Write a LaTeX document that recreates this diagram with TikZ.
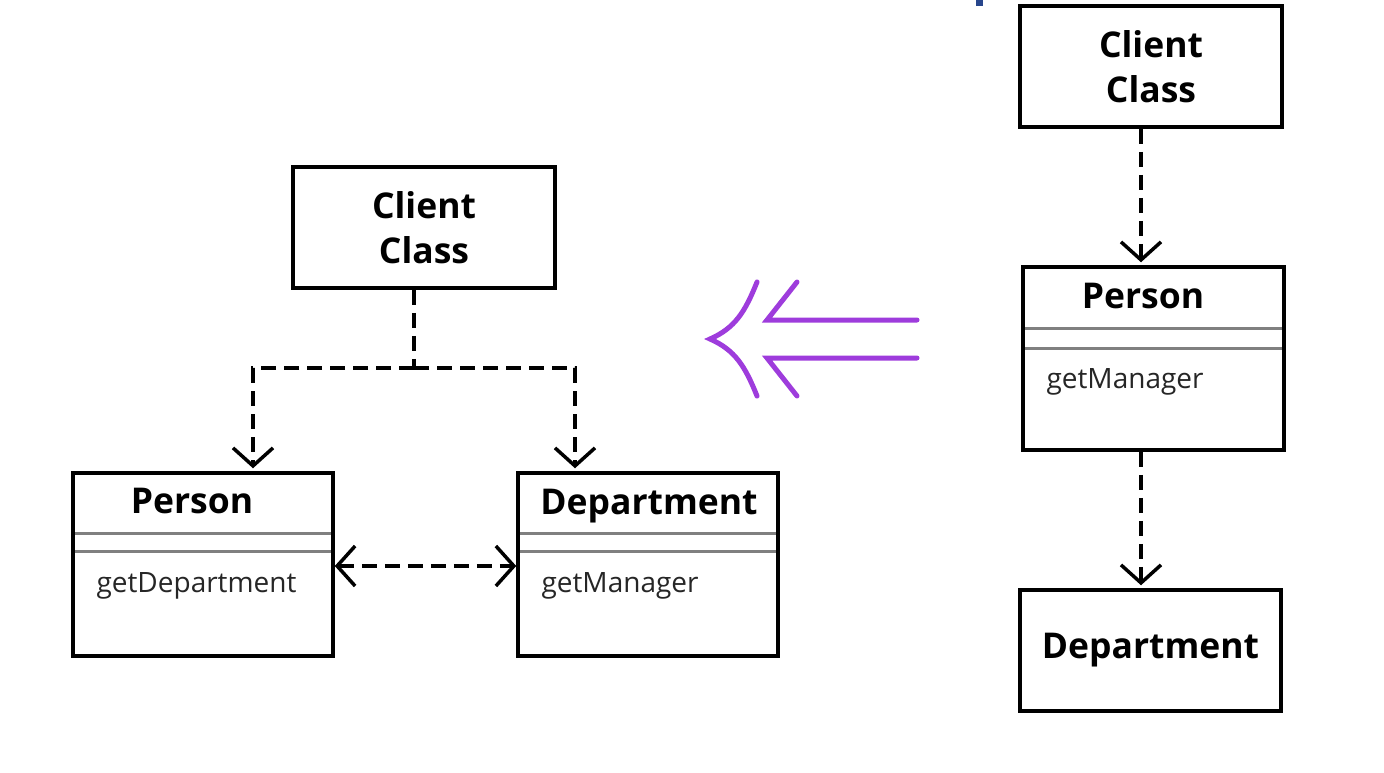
\documentclass[tikz,border=0pt]{standalone}
\usepackage{fontspec}
\setmainfont{Open Sans}
\usetikzlibrary{arrows.meta}
\definecolor{arrowpurple}{RGB}{158,60,220}
\definecolor{markblue}{RGB}{40,70,140}
\tikzset{
 box/.style={draw=black, line width=3.5pt, fill=white, inner sep=0pt},
 title/.style={font=\fontsize{35.5}{45}\selectfont\bfseries, align=center},
 method/.style={font=\fontsize{28}{32}\selectfont, anchor=base west, text=black!85},
 sep/.style={draw=gray, line width=3pt},
 barb/.tip={Straight Barb[length=18pt,width=40pt,line width=3.5pt]},
 dep/.style={line width=3.5pt, dash pattern=on 15pt off 8pt},
 bigarrow/.style={draw=arrowpurple, line width=5pt, line cap=round}
}
\begin{document}
\begin{tikzpicture}[x=1pt,y=-1pt]
\useasboundingbox (0,0) rectangle (1384,772);
\fill[markblue] (976,0) rectangle (983,6);

% left diagram
\node[box, title, minimum width=262pt, minimum height=121pt] (lclient) at (424,227.5) {Client\\Class};
\node[box, minimum width=260pt, minimum height=183pt] (lperson) at (203,564.5) {};
\node[title] (lpt) at (192,501) {Person};
\draw[sep] (75,533) -- (331,533);
\draw[sep] (75,551) -- (331,551);
\node[method] (lpm) at (93,592) {getDepartment};

\node[box, minimum width=260pt, minimum height=183pt] (ldept) at (648,564.5) {};
\node[title] (ldt) at (649,506) {Department};
\draw[sep] (520,533) -- (776,533);
\draw[sep] (520,551) -- (776,551);
\node[method] (ldm) at (538,592) {getManager};

\coordinate (lj) at (414,368);
\coordinate (lpx) at (253,368);
\coordinate (ldx) at (575,368);
\draw[dep] (lclient.south -| lj) -- (lj);
\draw[dep, -barb] (lj) -- (lpx) -- ([yshift=3pt]lperson.north -| lpx);
\draw[dep, -barb] (lj) -- (ldx) -- ([yshift=3pt]ldept.north -| ldx);
\draw[dep, barb-barb] ([yshift=-1.5pt]lperson.east) -- ([yshift=-1.5pt]ldept.west);

% purple arrow
\draw[bigarrow] (917,320) -- (767,320) -- (797,282);
\draw[bigarrow] (917,358) -- (767,358) -- (797,396);
\draw[bigarrow] (757,282) .. controls (745,312) and (735,328) .. (710,339) .. controls (735,350) and (745,366) .. (757,396);

% right diagram
\node[box, title, minimum width=262pt, minimum height=121pt] (rclient) at (1151,66.5) {Client\\Class};
\node[box, minimum width=261pt, minimum height=183pt] (rperson) at (1153.5,358.5) {};
\node[title] (rpt) at (1143,296) {Person};
\draw[sep] (1025,328) -- (1282,328);
\draw[sep] (1025,348) -- (1282,348);
\node[method] (rpm) at (1043,388) {getManager};
\node[box, title, minimum width=261pt, minimum height=121pt] (rdept) at (1150.5,650.5) {Department};

\coordinate (rx) at (1141,0);
\draw[dep, -barb] (rclient.south -| rx) -- ([yshift=3pt]rperson.north -| rx);
\draw[dep, -barb] (rperson.south -| rx) -- ([yshift=3pt]rdept.north -| rx);
\end{tikzpicture}
\end{document}
